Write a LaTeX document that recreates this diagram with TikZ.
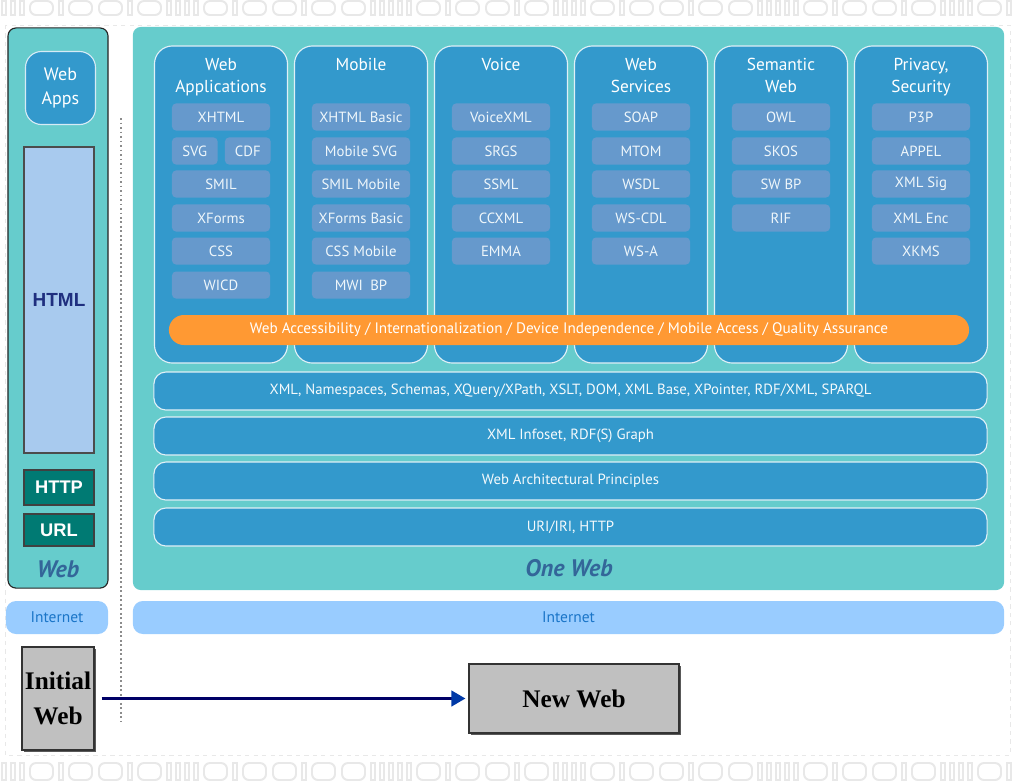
\documentclass[tikz,border=0pt]{standalone}
\usepackage{fontspec}
\setmainfont{PT Sans}
\newfontfamily\arialfont{Liberation Sans}
\newfontfamily\timesfont{Liberation Serif}
\usepackage{tikz}
\usetikzlibrary{arrows.meta,shadows}
\definecolor{webteal}{HTML}{66CCCC}
\definecolor{colblue}{HTML}{3399CC}
\definecolor{itemblue}{HTML}{6699CC}
\definecolor{barorange}{HTML}{FF9933}
\definecolor{netblue}{HTML}{99CCFF}
\definecolor{nettext}{HTML}{1A75C8}
\definecolor{labelblue}{HTML}{336699}
\definecolor{htmlfill}{HTML}{A8CAEE}
\definecolor{htmltext}{HTML}{1F2F7F}
\definecolor{darkteal}{HTML}{007A73}
\definecolor{oldgray}{HTML}{C0C0C0}
\definecolor{arrownavy}{HTML}{000066}
\definecolor{tipblue}{HTML}{0039A6}
\definecolor{bitgray}{HTML}{E8E8E8}

\begin{document}
\begin{tikzpicture}[
        x=0.025cm, y=-0.025cm,
        % Style cho các khối
        panel/.style={rectangle, fill=webteal, rounded corners=2mm, inner sep=0pt},
        column/.style={rectangle, draw=white!85!colblue, line width=0.8pt, fill=colblue, rounded corners=4.5mm, minimum width=3.325cm, minimum height=7.925cm, inner sep=0pt},
        coltitle/.style={anchor=north, align=center, text=white, inner sep=0pt, font=\fontsize{12.3}{15.6}\selectfont},
        item/.style={rectangle, fill=itemblue, rounded corners=1mm, text=white!92!colblue, minimum width=2.45cm, minimum height=0.675cm, inner sep=0pt, font=\fontsize{10.5}{12}\selectfont},
        halfitem/.style={item, minimum width=1.14cm},
        band/.style={rectangle, draw=white!85!colblue, line width=0.8pt, fill=colblue, rounded corners=3mm, text=white!95!colblue, minimum width=20.825cm, minimum height=0.95cm, inner sep=0pt, font=\fontsize{10.5}{12}\selectfont},
        internet/.style={rectangle, fill=netblue, rounded corners=2.5mm, text=nettext, minimum height=0.825cm, inner sep=0pt, font=\fontsize{11}{13}\selectfont},
        smallbox/.style={rectangle, draw=black!75, line width=0.8pt, fill=darkteal, text=white, minimum width=1.75cm, inner sep=0pt, font=\arialfont\bfseries\fontsize{13}{15}\selectfont},
        webname/.style={text=labelblue, inner sep=0pt, font=\bfseries\itshape\fontsize{17}{20}\selectfont},
        graybox/.style={rectangle, draw=black!80, line width=1pt, fill=oldgray, align=center, inner sep=0pt, font=\timesfont\bfseries\fontsize{18}{25}\selectfont, drop shadow={shadow xshift=1.5pt, shadow yshift=-1.5pt, fill=black!65, opacity=1}},
        bits/.style={draw=bitgray, line width=1.4pt}
    ]
        \useasboundingbox (0,0) rectangle (1014,783);

        % Nền trang trí
        \draw[bitgray, dashed, line width=0.6pt] (5,25) rectangle (1010,755);
        \foreach \yt/\yb in {1/15, 763/780} {
            \foreach \b [remember=\xe as \xs (initially 0)] in {1,1,1,0,1,0,0,1,0,1,1,1,1,0,1,0,0,1,0,0,1,1,1,1,1,0,1,0,0,1,0,1,1,1,1,0,1,0,0,1,0,0,1,1,1,1,1,0,1,0,0,1,0,1,1,1,1,0,1,0,0,1,0,0,1,1} {
                \pgfmathsetmacro{\xe}{\xs+(\b==1?9:30)}
                \ifnum\b=1
                    \draw[bits] (\xs+2,\yt) rectangle (\xs+6,\yb);
                \else
                    \draw[bits, rounded corners=1.5mm] (\xs+3,\yt) rectangle (\xs+26,\yb);
                \fi
            }
        }
        \fill[white] (0,755.5) rectangle (1014,762);

        % Web ban đầu (bên trái)
        \node[panel, draw=black!85, line width=0.8pt, minimum width=2.5cm, minimum height=14cm] (oldpanel) at (58,308) {};
        \node[rectangle, draw=white!80!colblue, line width=0.8pt, fill=colblue, rounded corners=4mm, text=white, align=center, minimum width=1.75cm, minimum height=1.825cm, inner sep=0pt, font=\fontsize{12.8}{17}\selectfont] (webapps) at (60.5,88) {Web\\Apps};
        \node[rectangle, draw=black!70, line width=1.2pt, fill=htmlfill, text=htmltext, minimum width=1.75cm, minimum height=7.65cm, inner sep=0pt, font=\arialfont\bfseries\fontsize{13.5}{15}\selectfont] (html) at (59,300) {HTML};
        \node[smallbox, minimum height=0.875cm] (http) at (59,487.5) {HTTP};
        \node[smallbox, minimum height=0.8cm] (url) at (59,530) {URL};
        \node[webname] (oldweb) at (58,569) {Web};
        \node[internet, minimum width=2.55cm] (oldnet) at (57,617.5) {Internet};

        % Đường phân cách
        \coordinate (septop) at (121,118);
        \coordinate (sepbot) at (121,722);
        \draw[black!45, dotted, line width=1.2pt] (septop) -- (sepbot);

        % One Web
        \node[panel, minimum width=21.775cm, minimum height=14.075cm] (onepanel) at (568.5,308.5) {};
        \node[internet, minimum width=21.775cm] (onenet) at (568.5,617.5) {Internet};

        % Các cột
        \node[column] (colweb) at (221,204.5) {};
        \node[column] (colmob) at (361,204.5) {};
        \node[column] (colvoice) at (501,204.5) {};
        \node[column] (colws) at (641,204.5) {};
        \node[column] (colsem) at (781,204.5) {};
        \node[column] (colpriv) at (921,204.5) {};

        \node[coltitle] (tweb) at (221,58) {Web\\Applications};
        \node[coltitle] (tmob) at (361,58) {Mobile};
        \node[coltitle] (tvoice) at (501,58) {Voice};
        \node[coltitle] (tws) at (641,58) {Web\\Services};
        \node[coltitle] (tsem) at (781,58) {Semantic\\Web};
        \node[coltitle] (tpriv) at (921,58) {Privacy,\\Security};

        % Web Applications
        \node[item] (xhtml) at (221,117) {XHTML};
        \node[halfitem] (svg) at (194.8,151) {SVG};
        \node[halfitem] (cdf) at (247.8,151) {CDF};
        \node[item] (smil) at (221,184) {SMIL};
        \node[item] (xforms) at (221,218) {XForms};
        \node[item] (css) at (221,251) {CSS};
        \node[item] (wicd) at (221,285) {WICD};

        % Mobile
        \node[item] (xhtmlbasic) at (361,117) {XHTML Basic};
        \node[item] (mobilesvg) at (361,151) {Mobile SVG};
        \node[item] (smilmobile) at (361,184) {SMIL Mobile};
        \node[item] (xformsbasic) at (361,218) {XForms Basic};
        \node[item] (cssmobile) at (361,251) {CSS Mobile};
        \node[item] (mwibp) at (361,285) {MWI\enspace BP};

        % Voice
        \node[item] (voicexml) at (501,117) {VoiceXML};
        \node[item] (srgs) at (501,151) {SRGS};
        \node[item] (ssml) at (501,184) {SSML};
        \node[item] (ccxml) at (501,218) {CCXML};
        \node[item] (emma) at (501,251) {EMMA};

        % Web Services
        \node[item] (soap) at (641,117) {SOAP};
        \node[item] (mtom) at (641,151) {MTOM};
        \node[item] (wsdl) at (641,184) {WSDL};
        \node[item] (wscdl) at (641,218) {WS-CDL};
        \node[item] (wsa) at (641,251) {WS-A};

        % Semantic Web
        \node[item] (owl) at (781,117) {OWL};
        \node[item] (skos) at (781,151) {SKOS};
        \node[item] (swbp) at (781,184) {SW BP};
        \node[item] (rif) at (781,218) {RIF};

        % Privacy, Security
        \node[item] (p3p) at (921,117) {P3P};
        \node[item] (appel) at (921,151) {APPEL};
        \node[item] (xmlsig) at (921,184) {XML Sig};
        \node[item] (xmlenc) at (921,218) {XML Enc};
        \node[item] (xkms) at (921,251) {XKMS};

        % Thanh cam
        \node[rectangle, fill=barorange, rounded corners=3.75mm, text=white, minimum width=20cm, minimum height=0.75cm, inner sep=0pt, font=\fontsize{10.8}{12}\selectfont] (access) at (569,330) {Web Accessibility / Internationalization / Device Independence / Mobile Access / Quality Assurance};

        % Các tầng
        \node[band] (xmlband) at (570.5,391) {XML, Namespaces, Schemas, XQuery/XPath, XSLT, DOM, XML Base, XPointer, RDF/XML, SPARQL};
        \node[band] (infoband) at (570.5,436) {XML Infoset, RDF(S) Graph};
        \node[band] (archband) at (570.5,481) {Web Architectural Principles};
        \node[band] (uriband) at (570.5,527) {URI/IRI, HTTP};
        \node[webname] (oneweb) at (569,568) {One Web};

        % Mũi tên
        \node[graybox, minimum width=1.8cm, minimum height=2.575cm] (initweb) at (58,698.5) {Initial\\Web};
        \node[graybox, minimum width=5.25cm, minimum height=1.725cm] (newweb) at (574,698.5) {New Web};
        \draw[-{Triangle[length=10pt, width=11pt, color=tipblue]}, arrownavy, line width=2pt, shorten <=5pt, shorten >=2pt] (initweb) -- (newweb);

    \end{tikzpicture}
\end{document}
